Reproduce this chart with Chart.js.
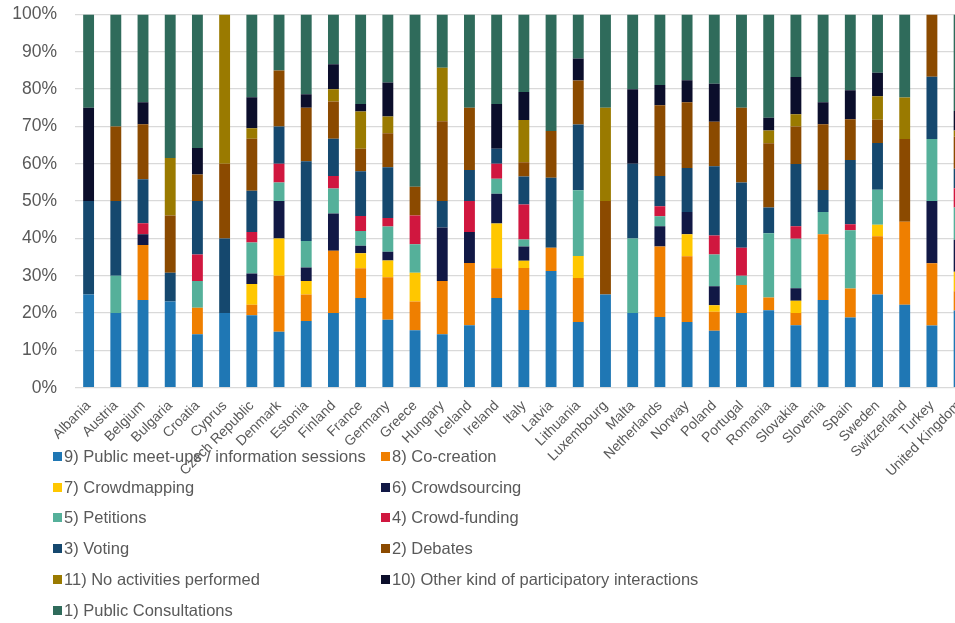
<!DOCTYPE html>
<html>
<head>
<meta charset="utf-8">
<script src="https://cdn.jsdelivr.net/npm/chart.js@4/dist/chart.umd.min.js"></script>
<style>
  html, body { margin: 0; padding: 0; overflow: hidden; background: #ffffff; width: 955px; height: 623px; }
  #wrap { position: absolute; left: 0; top: -14px; }
  #legend { position: absolute; left: 53px; top: 441px; display: grid; grid-template-columns: 328px auto; grid-auto-rows: 30.8px; align-items: center;
            font-family: "Liberation Sans", Arial, sans-serif; font-size: 16.5px; color: #595959; }
  .item { display: flex; align-items: center; white-space: nowrap; }
  .sw { width: 9px; height: 9px; margin-right: 2px; flex: none; }
</style>
</head>
<body>
<div id="wrap"><canvas id="c" width="973" height="496"></canvas></div>
<div id="legend"></div>
<script>
const categories = ["Albania","Austria","Belgium","Bulgaria","Croatia","Cyprus","Czech Republic","Denmark","Estonia","Finland","France","Germany","Greece","Hungary","Iceland","Ireland","Italy","Latvia","Lithuania","Luxembourg","Malta","Netherlands","Norway","Poland","Portugal","Romania","Slovakia","Slovenia","Spain","Sweden","Switzerland","Turkey","United Kingdom"];

const publicMeetups   = [25,20,23.5,23.1,14.3,20,19.4,15,17.9,20,24,18.2,15.4,14.3,16.7,24,20.8,31.3,17.6,25,20,18.9,17.6,15.3,20,20.7,16.7,23.5,18.8,25,22.2,16.7,20.7];
const coCreation      = [0,0,14.7,0,7.1,0,2.8,15,7.1,16.7,8,11.4,7.7,14.3,16.7,8,11.3,6.3,11.8,0,0,18.9,17.6,5.1,7.5,3.4,3.3,17.6,7.8,15.6,22.2,16.7,5.2];
const crowdmapping    = [0,0,0,0,0,0,5.6,10,3.6,0,4,4.5,7.7,0,0,12,1.9,0,5.9,0,0,0,5.9,1.7,0,0,3.3,0,0,3.1,0,0,5.2];
const crowdsourcing   = [0,0,2.9,0,0,0,2.8,10,3.6,10,2,2.3,0,14.3,8.3,8,3.8,0,0,0,0,5.4,5.9,5.1,0,0,3.3,0,0,0,0,16.7,8.6];
const petitions       = [0,10,0,0,7.1,0,8.3,5,7.1,6.7,4,6.8,7.7,0,0,4,1.9,0,17.6,0,20,2.7,0,8.5,2.5,17.2,13.3,5.9,15.6,9.4,0,16.7,8.6];
const crowdFunding    = [0,0,2.9,0,7.1,0,2.8,5,0,3.3,4,2.3,7.7,0,8.3,4,9.4,0,0,0,0,2.7,0,5.1,7.5,0,3.3,0,1.6,0,0,0,5.2];
const voting          = [25,20,11.8,7.7,14.3,20,11.1,10,21.4,10,12,13.6,0,7.1,8.3,4,7.5,18.8,17.6,0,20,8.1,11.8,18.6,17.5,6.9,16.7,5.9,17.2,12.5,0,16.7,5.2];
const debates         = [0,20,14.7,15.4,7.1,20,13.9,15,14.3,10,6,9.1,7.7,21.4,16.7,0,3.8,12.5,11.8,25,0,18.9,17.6,11.9,20,17.2,10,17.6,10.9,6.3,22.2,16.7,8.6];
const noActivities    = [0,0,0,15.4,0,40,2.8,0,0,3.3,10,4.5,0,14.3,0,0,11.3,0,0,25,0,0,0,0,0,3.4,3.3,0,0,6.3,11.1,0,1.7];
const otherKind       = [25,0,5.9,0,7.1,0,8.3,0,3.6,6.7,2,9.1,0,0,0,12,7.5,0,5.9,0,20,5.4,5.9,10.2,0,3.4,10,5.9,7.8,6.3,0,0,5.2];
const consultations   = [25,30,23.5,38.5,35.7,0,22.2,15,21.4,13.3,24,18.2,46.2,14.3,25,24,20.8,31.3,11.8,25,20,18.9,17.6,18.6,25,27.6,16.7,23.5,20.3,15.6,22.2,0,25.9];

const seriesNames = ["9) Public meet-ups / information sessions","8) Co-creation","7) Crowdmapping","6) Crowdsourcing","5) Petitions","4) Crowd-funding","3) Voting","2) Debates","11) No activities performed","10) Other kind of participatory interactions","1) Public Consultations"];
const seriesValues = [publicMeetups,coCreation,crowdmapping,crowdsourcing,petitions,crowdFunding,voting,debates,noActivities,otherKind,consultations];
const seriesColors = ["#1f77b4","#ef7f00","#ffc700","#111845","#55b09a","#d0173f","#15486e","#8b4a00","#9a7a00","#0b0e2b","#2f6b5b"];
const yTicks = [0,10,20,30,40,50,60,70,80,90,100];

// normalise each country to 100 %
const totals = categories.map((_, i) => seriesValues.reduce((s, arr) => s + arr[i], 0));
const datasets = seriesNames.map((name, k) => ({
  label: name,
  data: seriesValues[k].map((v, i) => v / totals[i] * 100),
  backgroundColor: seriesColors[k],
  borderWidth: 0,
  categoryPercentage: 1.0,
  barPercentage: 0.4
}));

new Chart(document.getElementById('c'), {
  type: 'bar',
  data: { labels: categories, datasets },
  options: {
    responsive: false,
    animation: false,
    layout: { padding: { left: 12, right: 0, top: 5, bottom: 0 } },
    plugins: { legend: { display: false }, tooltip: { enabled: false } },
    scales: {
      x: {
        stacked: true,
        grid: { display: false },
        border: { display: false },
        ticks: { autoSkip: false, maxRotation: 45, minRotation: 45, color: '#595959', padding: 2,
                 font: { family: '"Liberation Sans", Arial, sans-serif', size: 14 } }
      },
      y: {
        stacked: true,
        min: 0, max: 100,
        afterBuildTicks: (axis) => { axis.ticks = yTicks.map(v => ({ value: v })); },
        afterFit: (axis) => { axis.width = 63; },
        grid: { color: '#d9d9d9', lineWidth: 1.3, drawTicks: false },
        border: { display: false },
        ticks: { color: '#595959', padding: 18, callback: (v) => v + '%',
                 font: { family: '"Liberation Sans", Arial, sans-serif', size: 17.5 } }
      }
    }
  }
});

const lg = document.getElementById('legend');
seriesNames.forEach((n, k) => {
  const d = document.createElement('div');
  d.className = 'item';
  d.innerHTML = '<span class="sw" style="background:' + seriesColors[k] + '"></span><span></span>';
  d.lastChild.textContent = n;
  lg.appendChild(d);
});
</script>
</body>
</html>
